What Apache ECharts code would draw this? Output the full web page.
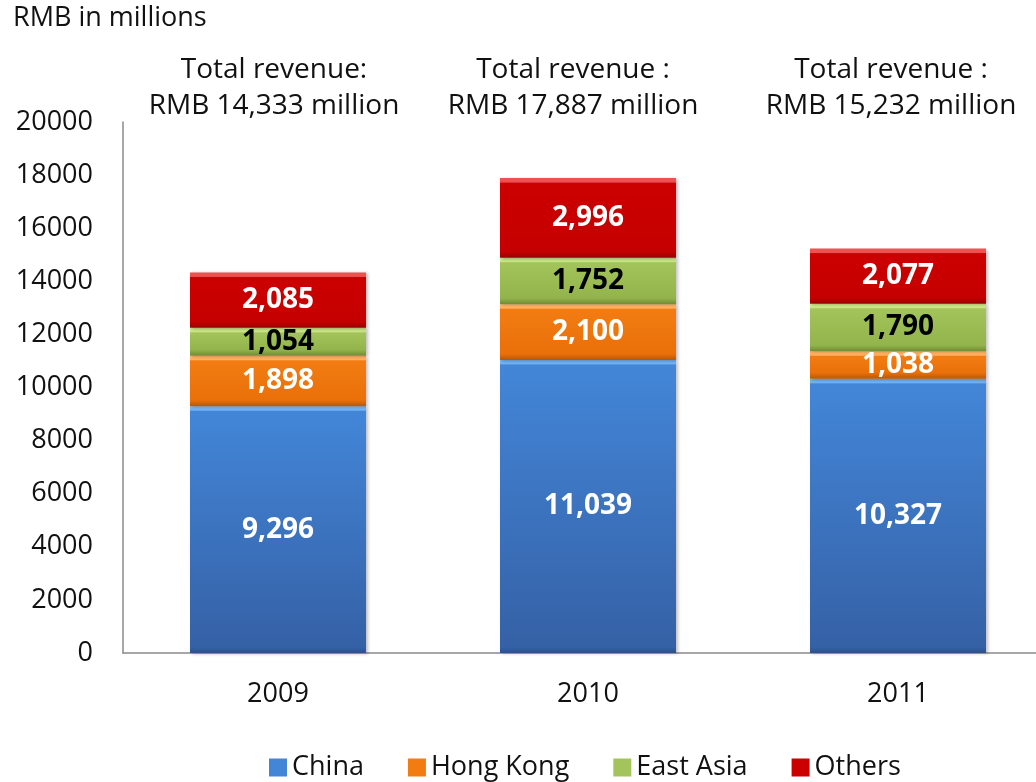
<!DOCTYPE html>
<html>
<head>
<meta charset="utf-8">
<script src="https://cdn.jsdelivr.net/npm/echarts@6/dist/echarts.min.js"></script>
<style>
  html, body { margin: 0; padding: 0; background: #fff; }
  #main { width: 1036px; height: 782px; }
</style>
</head>
<body>
<div id="main"></div>
<script>
const years = ['2009', '2010', '2011'];
const china = [9296, 11039, 10327];
const hongKong = [1898, 2100, 1038];
const eastAsia = [1054, 1752, 1790];
const others = [2085, 2996, 2077];
const totalPrefix = ['Total revenue:', 'Total revenue :', 'Total revenue :'];
const yTicks = [0, 2000, 4000, 6000, 8000, 10000, 12000, 14000, 16000, 18000, 20000];

const myChart = echarts.init(document.getElementById('main'));
const font = '"Open Sans", sans-serif';
const plotH = 531;
const yMax = yTicks[yTicks.length - 1];
// header text nudges to the left (px), as in the original slide
const headerShift = [4, 15, 7];

// totals for the header labels
const totals = years.map((y, i) => china[i] + hongKong[i] + eastAsia[i] + others[i]);
const fmt = v => v.toLocaleString('en-US');

// bevel-like vertical gradient, edges sized in pixels from the value
function bevel(value, c) {
    const h = value / yMax * plotH;
    const t = Math.min(0.3, 5 / h);
    const b = Math.min(0.3, 6 / h);
    return new echarts.graphic.LinearGradient(0, 0, 0, 1, [
        { offset: 0, color: c[0] },
        { offset: t * 0.8, color: c[0] },
        { offset: t, color: c[1] },
        { offset: 1 - b, color: c[2] },
        { offset: 1, color: c[3] }
    ]);
}

function seg(name, data, colors, labelColor) {
    return {
        name: name,
        type: 'bar',
        stack: 'rev',
        barWidth: 176,
        data: data.map(v => ({ value: v, itemStyle: { color: bevel(v, colors) } })),
        itemStyle: {
            color: colors[1],
            shadowColor: 'rgba(0,0,0,0.25)',
            shadowBlur: 3,
            shadowOffsetX: 2,
            shadowOffsetY: 1
        },
        label: {
            show: true,
            position: 'inside',
            formatter: p => fmt(p.value),
            color: labelColor,
            fontFamily: font,
            fontWeight: 'bold',
            fontSize: 28
        },
        emphasis: { disabled: true }
    };
}

const series = [
    seg('China', china, ['#72b2f4', '#4386d8', '#3561a6', '#2c5189'], '#fff'),
    seg('Hong Kong', hongKong, ['#ffb060', '#f27c12', '#ea700a', '#b85806'], '#fff'),
    seg('East Asia', eastAsia, ['#cde687', '#a2c45a', '#93b44c', '#6f8c32'], '#000'),
    seg('Others', others, ['#f05050', '#cc0000', '#c50000', '#990000'], '#fff')
];

let option;

option = {
    animation: false,
    textStyle: { fontFamily: font },
    color: ['#3d74c0', '#f07810', '#9bbb59', '#cc0000'],
    title: {
        text: 'RMB in millions',
        left: 8,
        top: 0,
        textStyle: { fontFamily: font, fontWeight: 'normal', fontSize: 27, color: '#111' }
    },
    legend: {
        bottom: -4,
        left: 264,
        itemWidth: 18,
        itemHeight: 18,
        itemGap: 44,
        icon: 'rect',
        textStyle: { fontFamily: font, fontSize: 27, color: '#111' },
        data: ['China', 'Hong Kong', 'East Asia', 'Others']
    },
    grid: {
        left: 123,
        top: 122,
        width: 930,
        height: plotH,
        containLabel: false,
        outerBoundsMode: 'none'
    },
    xAxis: [
        {
            type: 'category',
            data: years,
            axisLine: { lineStyle: { color: '#8a8a8a', width: 1.5 } },
            axisTick: { show: false },
            axisLabel: { fontSize: 27, color: '#111', margin: 28, fontFamily: font }
        },
        {
            type: 'category',
            position: 'top',
            data: years.map((y, i) => ({
                value: totalPrefix[i] + '\nRMB ' + fmt(totals[i]) + ' million',
                textStyle: { padding: [0, headerShift[i] * 2, 0, 0] }
            })),
            axisLine: { show: false },
            axisTick: { show: false },
            axisLabel: {
                interval: 0,
                hideOverlap: false,
                fontSize: 28,
                color: '#111',
                margin: -2,
                lineHeight: 36,
                fontFamily: font
            }
        }
    ],
    yAxis: {
        type: 'value',
        min: yTicks[0],
        max: yMax,
        interval: 2000,
        axisLine: { show: true, lineStyle: { color: '#8a8a8a', width: 1.5 } },
        axisTick: { show: false },
        splitLine: { show: false },
        axisLabel: { fontSize: 27, color: '#111', margin: 30, fontFamily: font, formatter: v => String(v) }
    },
    series: series
};

option && myChart.setOption(option);
</script>
</body>
</html>
